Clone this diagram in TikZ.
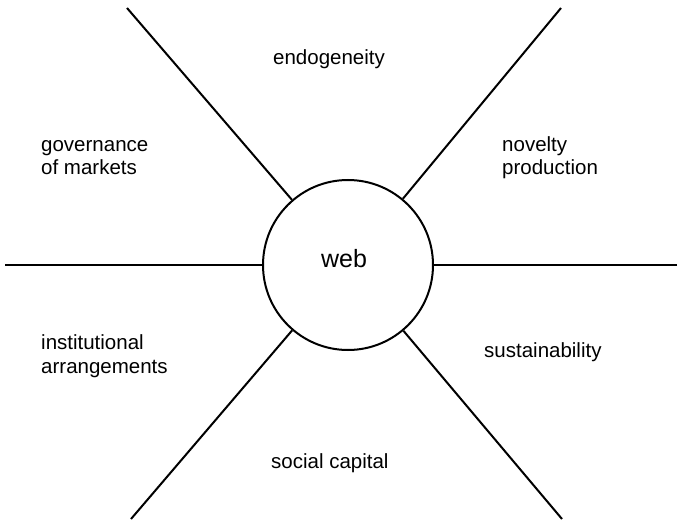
\documentclass[tikz,border=0pt]{standalone}
\usepackage{fontspec}
\setmainfont{Liberation Sans}
\usetikzlibrary{positioning}
\tikzset{
    hub/.style={
        circle,
        draw,
        line width=2pt,
        minimum size=170pt,
        inner sep=0pt},
    spoke/.style={
        draw,
        line width=2pt},
    sector/.style={
        font=\fontsize{20.5}{23.5}\selectfont,
        inner sep=0pt,
        anchor=base west,
        align=left}}

\begin{document}
\begin{tikzpicture}[x=1pt,y=-1pt]
        \useasboundingbox (0,0) rectangle (680,524);

        \node[hub] (web) at (348,265) {};
        \node[anchor=base,inner sep=0pt,font=\fontsize{25}{30}\selectfont] (webname) at (344,267) {web};

        \coordinate (w) at (5,265);
        \coordinate (e) at (677,265);
        \coordinate (nw) at (127,8);
        \coordinate (ne) at (561,8);
        \coordinate (sw) at (131,519);
        \coordinate (se) at (562,519);

        \foreach \c in {w,e,nw,ne,sw,se}
            \draw[spoke] (\c) -- (web);

        \node[sector] (endo) at (273,65) {endogeneity};
        \node[sector] (gov) at (41,175) {governance\\of markets};
        \node[sector] (nov) at (502,175) {novelty\\production};
        \node[sector] (inst) at (41,373) {institutional\\arrangements};
        \node[sector] (sust) at (484,357) {sustainability};
        \node[sector] (soc) at (271,468) {social capital};
    \end{tikzpicture}
\end{document}
